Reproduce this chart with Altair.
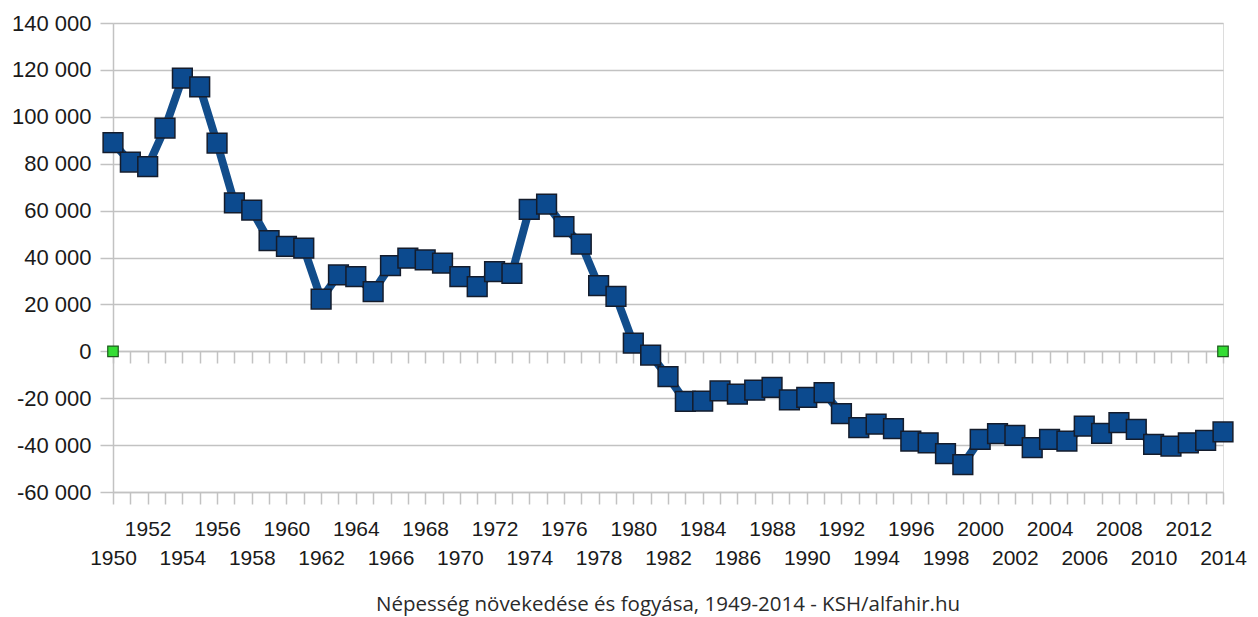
import altair as alt
import pandas as pd

years = list(range(1950, 2015))
values = [
    89000, 80700, 78700, 95200, 116500, 112800, 88800, 63300, 60200, 47200,
    44700, 44000, 22300, 32600, 31800, 25400, 36500, 39700, 39000, 37600,
    31800, 27600, 34000, 33200, 60500, 62800, 53200, 45700, 28000, 23400,
    3500, -1600, -10800, -21400, -21300, -16900, -18300, -16600, -15400, -20700,
    -19700, -17600, -26600, -32600, -31100, -33000, -38300, -39000, -43600, -48300,
    -37600, -35100, -35900, -41100, -37600, -38300, -31900, -35000, -30400, -33300,
    -39700, -40400, -39000, -38000, -34400,
]
end_years = [1950, 2014]
end_values = [0, 0]
y_ticks = [-60000, -40000, -20000, 0, 20000, 40000, 60000, 80000, 100000, 120000, 140000]
caption = "Népesség növekedése és fogyása, 1949-2014 - KSH/alfahir.hu"

df = pd.DataFrame({"year": years, "value": values})
df_end = pd.DataFrame({"year": end_years, "value": end_values})

GRID = "#c2c2c2"
FONT = "Liberation Sans"

x_scale = alt.Scale(domain=[1950, 2014], nice=False, zero=False)
y_scale = alt.Scale(domain=[-60000, 140000], nice=False)

y_axis = alt.Axis(
    values=y_ticks, title=None, grid=True, gridColor=GRID, gridWidth=1.5, orient="left",
    domainColor=GRID, domainWidth=1.5, tickColor=GRID, tickWidth=1.5, tickSize=13,
    labelFont=FONT, labelFontSize=22, labelColor="#1a1a1a", labelPadding=9,
    labelExpr="(datum.value < 0 ? '-' : '') + replace(format(abs(datum.value), ','), ',', ' ')",
)

x_axis_main = alt.Axis(
    values=years, title=None, grid=False, format="d", orient="bottom",
    domainColor=GRID, domainWidth=1.5, tickColor=GRID, tickWidth=1.5, tickSize=12,
    labelFont=FONT, labelFontSize=21, labelColor="#1a1a1a",
    labelExpr="datum.value % 2 == 0 ? datum.label : ''",
    labelOverlap=False, labelFlush=False, labelBound=False,
    labelPadding={"condition": {"test": "datum.value % 4 == 0", "value": 14}, "value": 43},
)

x_axis_zero = alt.Axis(
    values=years, title=None, grid=False, labels=False, orient="bottom", offset=-141,
    domainColor=GRID, domainWidth=1.5, tickColor=GRID, tickWidth=1.5, tickSize=12,
)

line = alt.Chart(df).mark_line(
    color="#124d8b", strokeWidth=8,
    point=alt.OverlayMarkDef(shape="square", filled=True, size=390, fill="#0c4a8e",
                             stroke="#141c2c", strokeWidth=1.5, opacity=1),
).encode(
    x=alt.X("year:Q", scale=x_scale, axis=x_axis_main),
    y=alt.Y("value:Q", scale=y_scale, axis=y_axis),
)

ends = alt.Chart(df_end).mark_point(
    shape="square", filled=True, size=110, fill="#33dd33", stroke="#1d5a1d",
    strokeWidth=1.2, opacity=1,
).encode(
    x=alt.X("year:Q", scale=x_scale, axis=x_axis_zero),
    y=alt.Y("value:Q", scale=y_scale, axis=y_axis),
)

chart = alt.layer(ends, line).resolve_axis(x="independent").properties(
    width=1110, height=469, autosize="none",
    padding={"left": 105, "top": 15, "right": 25, "bottom": 125},
    title=alt.TitleParams(caption, orient="bottom", anchor="middle", font="Open Sans",
                          fontSize=20.5, fontWeight="normal", color="#2a2a2a", offset=27),
).configure_view(stroke=GRID, strokeWidth=1.5).configure(background="white")

chart.save("out.html", embed_options={"renderer": "svg", "actions": False})
